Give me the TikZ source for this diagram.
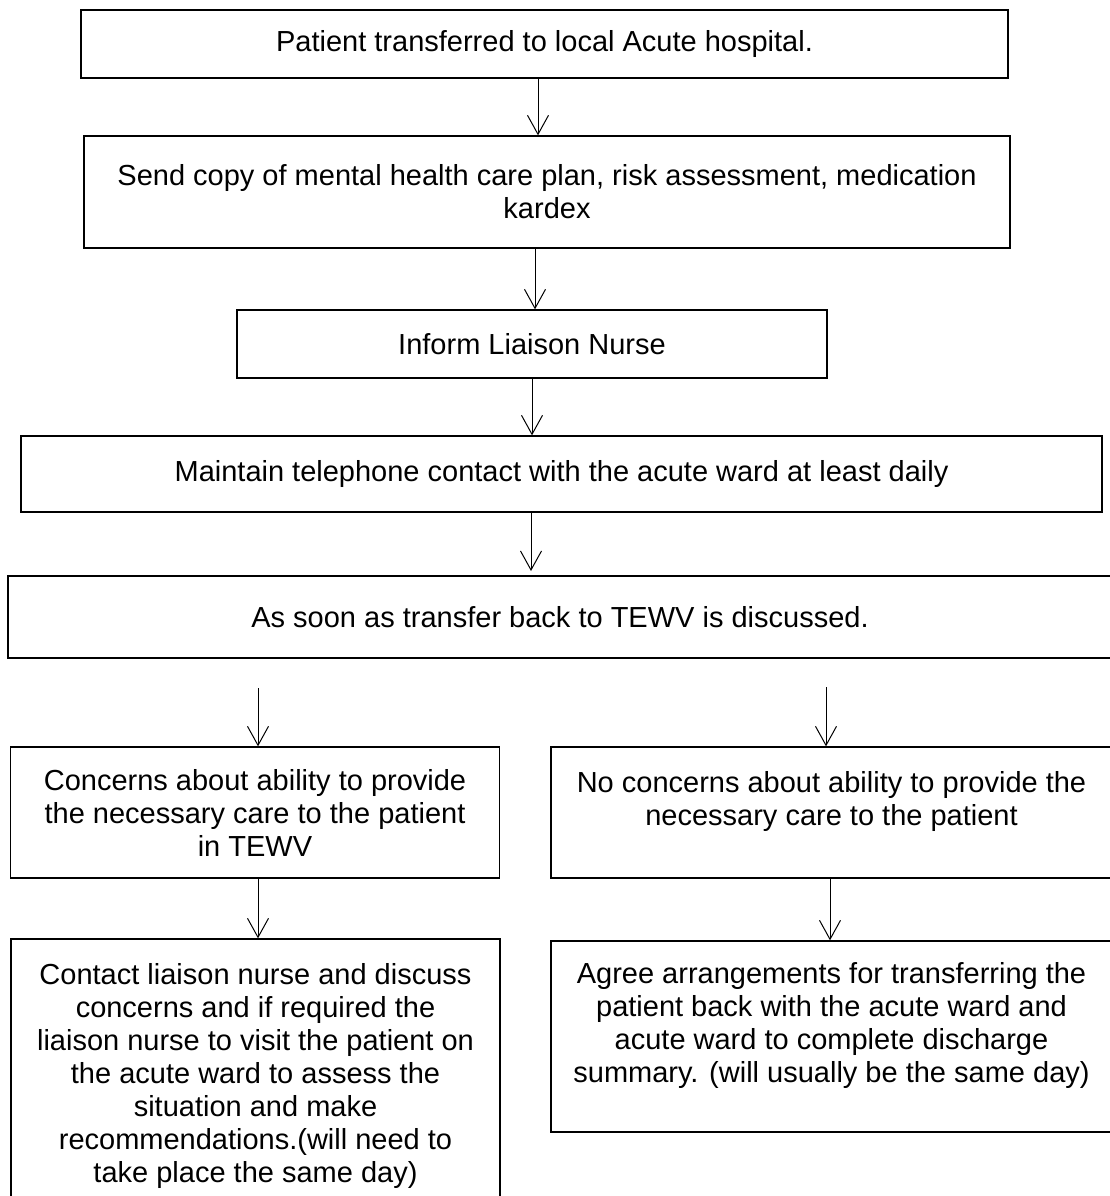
\documentclass[tikz,border=0pt]{standalone}
\usepackage{fontspec}
\setmainfont{Liberation Sans}
\usetikzlibrary{arrows.meta}

\tikzset{
    box/.style={draw, rectangle, line width=1.3pt, align=center, inner sep=0pt,
        font=\fontsize{29}{33}\selectfont},
    freccia/.style={-{Straight Barb[length=19pt, width=21pt]}, line width=1pt}
}

\begin{document}
\begin{tikzpicture}[x=1pt, y=-1pt]
        \useasboundingbox (0,0) rectangle (1110,1196);

        %%%%%%%%%% Riquadri %%%%%%%%%%
        \node[box, minimum width=927pt, minimum height=68pt] (b1) at (544.5,44) {Patient transferred to local Acute hospital.};
        \node[box, minimum width=926pt, minimum height=112pt] (b2) at (547,192) {Send copy of mental health care plan, risk assessment, medication\\kardex};
        \node[box, minimum width=590pt, minimum height=68pt] (b3) at (532,344) {Inform Liaison Nurse};
        \node[box, minimum width=1081pt, minimum height=76pt] (b4) at (561.5,474) {Maintain telephone contact with the acute ward at least daily};
        \node[box, minimum width=1104pt, minimum height=82pt] (b5) at (560,617) {As soon as transfer back to TEWV is discussed.};
        \node[box, minimum width=489pt, minimum height=131pt] (b6a) at (255,812.5) {Concerns about ability to provide\\the necessary care to the patient\\in TEWV};
        \node[box, minimum width=561pt, minimum height=131pt] (b6b) at (831.5,812.5) {No concerns about ability to provide the\\necessary care to the patient\\[-14pt]\strut};
        \node[box, minimum width=489pt, minimum height=274pt] (b7a) at (255.5,1076) {Contact liaison nurse and discuss\\concerns and if required the\\liaison nurse to visit the patient on\\the acute ward to assess the\\situation and make\\recommendations.(will need to\\take place the same day)};
        \node[box, minimum width=561pt, minimum height=191pt] (b7b) at (831.5,1036.5) {Agree arrangements for transferring the\\patient back with the acute ward and\\acute ward to complete discharge\\summary. (will usually be the same day)\\[-14pt]\strut};

        %%%%%%%%%% Colonne delle frecce %%%%%%%%%%
        \coordinate (c1) at (538,0);
        \coordinate (c2) at (535,0);
        \coordinate (c3) at (532,0);
        \coordinate (c4) at (531,571);
        \coordinate (s1) at (258,688);
        \coordinate (s2) at (826,687);
        \coordinate (c6) at (830,0);

        %%%%%%%%% Frecce %%%%%%%%%%
        \draw[freccia] (b1.south -| c1) -- (b2.north -| c1);
        \draw[freccia] (b2.south -| c2) -- (b3.north -| c2);
        \draw[freccia] (b3.south -| c3) -- (b4.north -| c3);
        \draw[freccia] (b4.south -| c4) -- (c4);
        \draw[freccia] (s1) -- (b6a.north -| s1);
        \draw[freccia] (s2) -- (b6b.north -| s2);
        \draw[freccia] (b6a.south -| s1) -- (b7a.north -| s1);
        \draw[freccia] (b6b.south -| c6) -- (b7b.north -| c6);
\end{tikzpicture}
\end{document}
